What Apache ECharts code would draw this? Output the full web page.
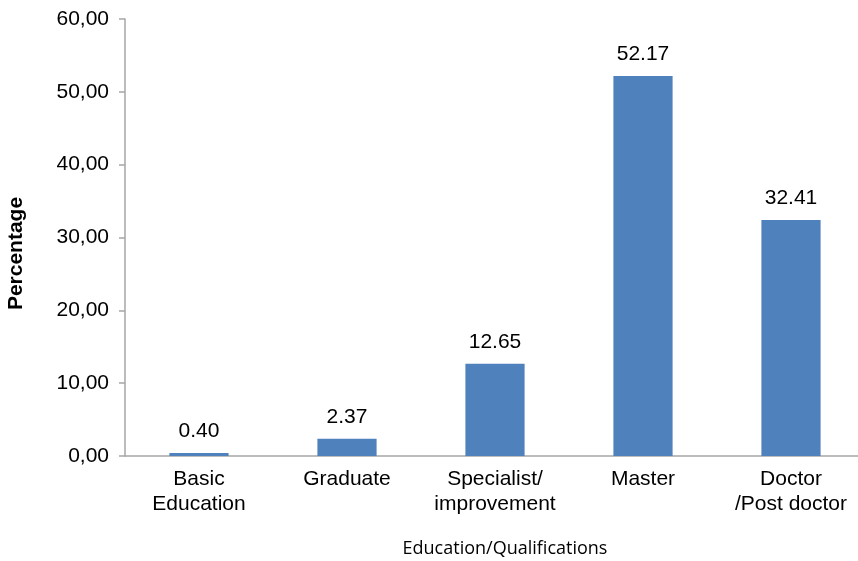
<!DOCTYPE html>
<html><head><meta charset="utf-8">
<script src="https://cdn.jsdelivr.net/npm/echarts@6/dist/echarts.min.js"></script>
<style>html,body{margin:0;padding:0;background:#fff}#c{width:858px;height:561px}</style>
</head><body><div id="c"></div>
<script>
const categories = ["Basic\nEducation", "Graduate", "Specialist/\nimprovement", "Master", "Doctor\n/Post doctor"];
const values = [0.40, 2.37, 12.65, 52.17, 32.41];
const yTicks = [0, 10, 20, 30, 40, 50, 60];

const chart = echarts.init(document.getElementById('c'));
chart.setOption({
  animation: false,
  grid: { left: 125, right: -7, top: 19, bottom: 105, containLabel: false, outerBoundsMode: 'none' },
  xAxis: {
    type: 'category', data: categories,
    name: 'Education/Qualifications', nameLocation: 'middle', nameGap: 84,
    nameTextStyle: { fontFamily: 'Open Sans', fontSize: 18, color: '#000', padding: [0, 0, 0, 20] },
    axisLine: { lineStyle: { color: '#a6a6a6', width: 1.5 } },
    axisTick: { show: false },
    axisLabel: { interval: 0, fontFamily: 'Liberation Sans', fontSize: 21, color: '#000', margin: 11, lineHeight: 25 }
  },
  yAxis: {
    type: 'value', min: yTicks[0], max: yTicks[yTicks.length - 1], interval: 10,
    name: 'Percentage', nameLocation: 'middle', nameGap: 98,
    nameTextStyle: { fontFamily: 'Liberation Sans', fontSize: 21, fontWeight: 'bold', color: '#000', padding: [0, 32, 0, 0] },
    axisLine: { show: true, lineStyle: { color: '#a6a6a6', width: 1.5 } },
    axisTick: { show: true, length: 6, lineStyle: { color: '#a6a6a6', width: 1.5 } },
    splitLine: { show: false },
    axisLabel: { fontFamily: 'Liberation Sans', fontSize: 21, color: '#000', margin: 16,
      formatter: v => v.toFixed(2).replace('.', ',') }
  },
  series: [{
    type: 'bar', data: values, barWidth: '40%',
    itemStyle: { color: '#4F81BD' },
    label: { show: true, position: 'top', distance: 11, fontFamily: 'Liberation Sans', fontSize: 21, color: '#000',
      formatter: p => p.value.toFixed(2) }
  }]
});
</script></body></html>
